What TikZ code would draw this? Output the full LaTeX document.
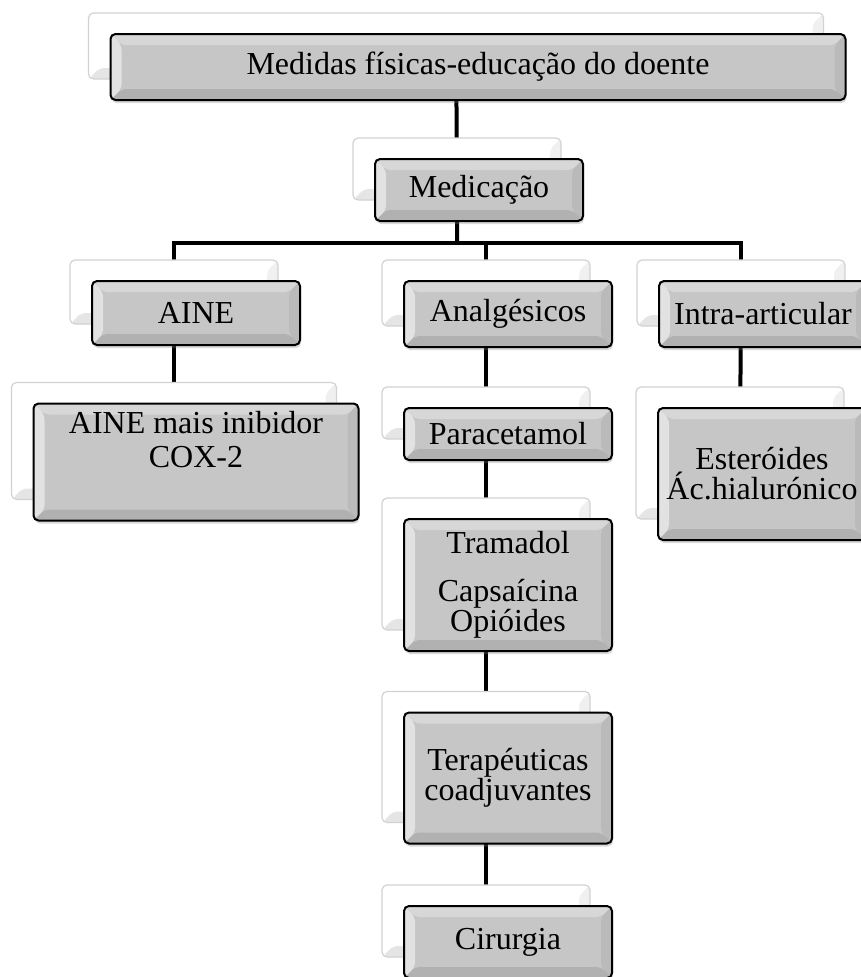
\documentclass[tikz,border=0pt]{standalone}
\usepackage{fontspec}
\setmainfont{Liberation Serif}
\usepackage{tikz}
\usetikzlibrary{positioning,backgrounds,shadows}
\definecolor{boxgrey}{HTML}{C6C6C6}
\definecolor{backrule}{HTML}{D2D2D2}
\definecolor{linkink}{HTML}{000000}
\tikzset{
  bevel/.style={path picture={
    \fill[white, opacity=.5] (path picture bounding box.north west) -- ([shift={(11pt,-11pt)}]path picture bounding box.north west)
      -- ([shift={(11pt,11pt)}]path picture bounding box.south west) -- (path picture bounding box.south west) -- cycle;
    \fill[white, opacity=.3] (path picture bounding box.north west) -- (path picture bounding box.north east)
      -- ([shift={(-11pt,-11pt)}]path picture bounding box.north east) -- ([shift={(11pt,-11pt)}]path picture bounding box.north west) -- cycle;
    \fill[black, opacity=.06] (path picture bounding box.north east) -- (path picture bounding box.south east)
      -- ([shift={(-11pt,11pt)}]path picture bounding box.south east) -- ([shift={(-11pt,-11pt)}]path picture bounding box.north east) -- cycle;
    \fill[black, opacity=.1] (path picture bounding box.south west) -- (path picture bounding box.south east)
      -- ([shift={(-11pt,11pt)}]path picture bounding box.south east) -- ([shift={(11pt,11pt)}]path picture bounding box.south west) -- cycle;
  }}
}

\begin{document}
\begin{tikzpicture}[x=1pt, y=-1pt, font=\fontsize{32}{30}\selectfont,
  back/.style={draw=backrule, line width=1.2pt, fill=white, rounded corners=5pt, bevel, inner sep=0pt, minimum width=208pt},
  front/.style={back, draw=black, line width=2pt, fill=boxgrey, align=center,
    drop shadow={shadow xshift=1pt, shadow yshift=-3pt, opacity=.3}},
  link/.style={line width=4pt, linkink}]
  \useasboundingbox (0,0) rectangle (860,977);
  % back row of boxes
  \node[back, minimum width=735pt, minimum height=66pt] (topb) at (456,46) {};
  \node[front, minimum width=735pt, minimum height=66pt] (top) at ([shift={(22,21)}]topb) {Medidas físicas-educação do doente};
  \node[back, minimum height=62pt] (medb) at (457,169) {};
  \node[front, minimum height=62pt] (med) at ([shift={(22,21)}]medb) {Medicação};
  \node[back, minimum height=64pt] (aineb) at (174,292) {};
  \node[front, minimum height=64pt] (aine) at ([shift={(22,21)}]aineb) {AINE};
  \node[back, minimum height=66pt] (analgb) at (486,293) {};
  \node[front, minimum height=66pt] (analg) at ([shift={(22,21)}]analgb) {Analgésicos};
  \node[back, minimum height=66pt] (intrab) at (741,293) {};
  \node[front, minimum height=66pt] (intra) at ([shift={(22,21)}]intrab) {Intra-articular};
  \node[back, minimum width=325pt, minimum height=117pt] (coxb) at (174,441) {};
  \node[front, minimum width=325pt, minimum height=117pt] (cox) at ([shift={(22,21)}]coxb)
    {\begin{tabular}{@{}c@{}}AINE mais inibidor\\[4pt] COX-2\\[37pt]\end{tabular}};
  \node[back, minimum height=52pt] (parb) at (486,413) {};
  \node[front, minimum height=52pt] (par) at ([shift={(22,21)}]parb) {Paracetamol};
  \node[back, minimum height=132pt] (estb) at (740,453) {};
  \node[front, minimum height=132pt] (est) at ([shift={(22,21)}]estb) {Esteróides\\Ác.hialurónico};
  \node[back, minimum height=132pt] (tramb) at (486,564) {};
  \node[front, minimum height=132pt] (tram) at ([shift={(22,21)}]tramb) {Tramadol\\[18pt]Capsaícina\\Opióides};
  \node[back, minimum height=131pt] (terapb) at (486,757) {};
  \node[front, minimum height=131pt] (terap) at ([shift={(22,21)}]terapb) {Terapéuticas\\coadjuvantes};
  \node[back, minimum height=72pt] (cirb) at (486,921) {};
  \node[front, minimum height=72pt] (cir) at ([shift={(22,21)}]cirb) {Cirurgia};
  \coordinate (bus) at (457,243);
  % connectors behind the boxes
  \begin{scope}[on background layer]
    \draw[link] (topb.center) -- (medb.center) -- (bus);
    \draw[link] (bus) -| (aineb.center);
    \draw[link] (bus) -| (analgb.center);
    \draw[link] (bus) -| (intrab.center);
    \draw[link] (aineb.center) -- (coxb.center);
    \draw[link] (analgb.center) -- (parb.center) -- (tramb.center) -- (terapb.center) -- (cirb.center);
    \draw[link] (intrab.center) -- (estb.center);
  \end{scope}
\end{tikzpicture}
\end{document}
